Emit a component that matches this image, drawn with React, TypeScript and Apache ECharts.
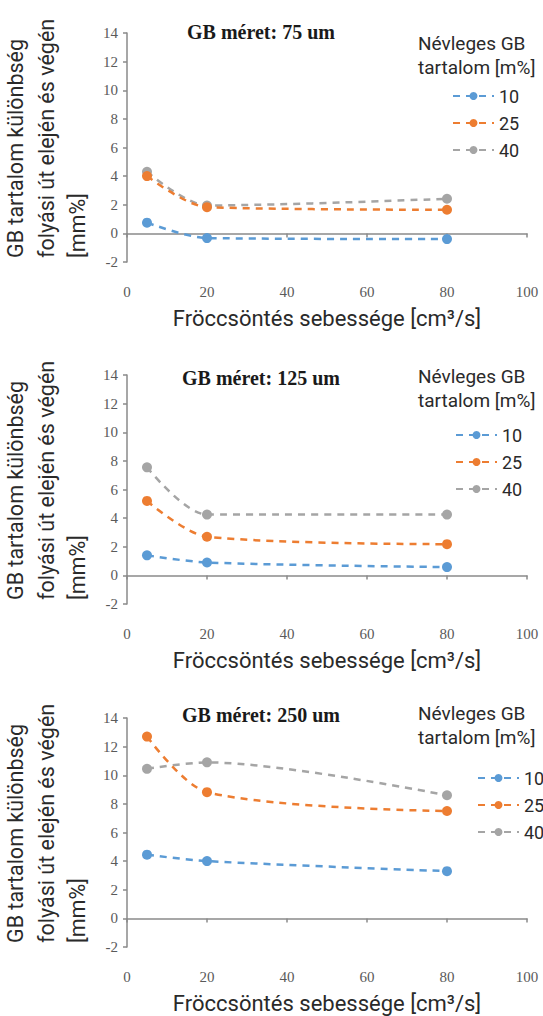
import React, { useEffect, useRef } from "react";
import * as echarts from "echarts";

const xValues = [5, 20, 80];
const seriesNames = ["10", "25", "40"];
const panelTitles = ["GB méret: 75 um", "GB méret: 125 um", "GB méret: 250 um"];
// values per panel, per series (10, 25, 40 m%)
const panel75 = [
  [0.75, -0.33, -0.4],
  [4.0, 1.83, 1.65],
  [4.3, 1.95, 2.42],
];
const panel125 = [
  [1.4, 0.9, 0.58],
  [5.2, 2.7, 2.18],
  [7.55, 4.25, 4.25],
];
const panel250 = [
  [4.45, 4.0, 3.3],
  [12.7, 8.82, 7.5],
  [10.45, 10.9, 8.6],
];
const panels = [panel75, panel125, panel250];
const yTicks = { min: -2, max: 14, interval: 2 };
const xTicks = { min: 0, max: 100, interval: 20 };
const colors = ["#5b9bd5", "#ed7d31", "#a5a5a5"];
const yAxisTitle = "GB tartalom különbség\nfolyási út elején és végén\n[mm%]";
const xAxisTitle = "Fröccsöntés sebessége [cm³/s]";
const legendTitle = "Névleges GB\ntartalom [m%]";

export default function App() {
  const ref = useRef<HTMLDivElement>(null);
  useEffect(() => {
    if (!ref.current) return;
    const chart = echarts.init(ref.current, undefined, { renderer: "svg" });
    const gridTops = [33, 375, 718];
    const gridH = 229;
    const legendLefts = [447, 450, 472];
    const legendTops = [82, 421, 764];
    const titleYs = [32, 378, 715];
    const legendTitleYs = [55, 388, 725];
    const sansFont = "Roboto";
    const serifFont = '"Liberation Serif", serif';

    const grids = gridTops.map((t) => ({ left: 127, right: 16, top: t, height: gridH }));
    const xAxes = gridTops.map((_, i) => ({
      type: "value",
      gridIndex: i,
      min: xTicks.min,
      max: xTicks.max,
      interval: xTicks.interval,
      splitLine: { show: false },
      axisLine: { show: true, lineStyle: { color: "#8a8a8a", width: 1.5 } },
      axisTick: { show: true, length: 4, lineStyle: { color: "#8a8a8a", width: 1.5 } },
      axisLabel: { color: "#5a5a5a", fontFamily: serifFont, fontSize: 15, margin: 22 },
      name: xAxisTitle,
      nameLocation: "middle",
      nameGap: 45,
      nameTextStyle: { color: "#2a2a2a", fontFamily: sansFont, fontSize: 22 },
    }));
    const yAxes = gridTops.map((_, i) => ({
      type: "value",
      gridIndex: i,
      min: yTicks.min,
      max: yTicks.max,
      interval: yTicks.interval,
      splitLine: { show: false },
      axisLine: { show: true, lineStyle: { color: "#8a8a8a", width: 1.5 } },
      axisTick: { show: true, length: 4, lineStyle: { color: "#8a8a8a", width: 1.5 } },
      axisLabel: { color: "#5a5a5a", fontFamily: serifFont, fontSize: 15, margin: 9 },
    }));
    const series: any[] = [];
    panels.forEach((panel, p) => {
      panel.forEach((vals, s) => {
        series.push({
          type: "line",
          name: seriesNames[s],
          xAxisIndex: p,
          yAxisIndex: p,
          data: xValues.map((x, k) => [x, vals[k]]),
          smooth: 0.3,
          symbol: "circle",
          symbolSize: 10,
          color: colors[s],
          lineStyle: { color: colors[s], width: 2.5, type: [7, 6] },
          itemStyle: { color: colors[s] },
          z: 3 - s,
        });
      });
    });
    const legends = gridTops.map((_, i) => ({
      orient: "vertical",
      left: legendLefts[i],
      top: legendTops[i],
      itemWidth: 41,
      itemHeight: 10,
      itemGap: 9,
      data: seriesNames,
      selectedMode: false,
      textStyle: { fontFamily: sansFont, fontSize: 18, color: "#2a2a2a" },
    }));
    const graphics: any[] = [];
    gridTops.forEach((t, i) => {
      graphics.push({
        type: "text",
        x: 261,
        y: titleYs[i],
        style: {
          text: panelTitles[i],
          font: `bold 20px ${serifFont}`,
          fill: "#1a1a1a",
          textAlign: "center",
          textVerticalAlign: "middle",
        },
      });
      graphics.push({
        type: "text",
        x: 418,
        y: legendTitleYs[i],
        style: {
          text: legendTitle,
          font: `19px ${sansFont}`,
          lineHeight: 24,
          fill: "#2a2a2a",
          textAlign: "left",
          textVerticalAlign: "middle",
        },
      });
      graphics.push({
        type: "text",
        x: 0,
        y: t + gridH - 4,
        rotation: Math.PI / 2,
        style: {
          text: yAxisTitle,
          font: `21.5px ${sansFont}`,
          lineHeight: 31,
          fill: "#2a2a2a",
          textAlign: "left",
          textVerticalAlign: "top",
        },
      });
    });

    chart.setOption({
      animation: false,
      backgroundColor: "#ffffff",
      grid: grids,
      xAxis: xAxes,
      yAxis: yAxes,
      legend: legends,
      series,
      graphic: graphics,
    });
    return () => chart.dispose();
  }, []);
  return (
    <div
      ref={ref}
      style={{ position: "absolute", left: 0, top: 0, width: 543, height: 1016 }}
    />
  );
}
